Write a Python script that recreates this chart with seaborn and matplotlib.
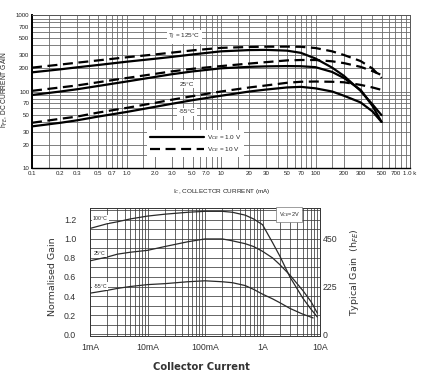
import numpy as np
import pandas as pd
import matplotlib
matplotlib.use("Agg")
import matplotlib.pyplot as plt
import seaborn as sns
from matplotlib.ticker import FixedLocator, NullFormatter
from matplotlib.lines import Line2D

# ---------------- top chart data: hFE vs collector current (mA) ----------------
top_current = [0.1, 0.2, 0.3, 0.5, 1, 2, 3, 5, 10, 20, 30, 50, 70, 100, 150, 200, 300, 400, 500]
gain_125_1v = [178, 195, 207, 222, 245, 268, 283, 305, 335, 348, 350, 342, 320, 270, 205, 160, 102, 68, 49]
gain_125_10v = [205, 225, 238, 255, 280, 305, 322, 345, 372, 382, 385, 386, 384, 370, 335, 300, 250, 200, 150]
gain_25_1v = [90, 100, 107, 118, 135, 155, 168, 183, 201, 210, 213, 215, 214, 208, 180, 150, 105, 65, 40]
gain_25_10v = [102, 113, 120, 132, 150, 170, 183, 198, 215, 232, 242, 255, 258, 258, 248, 235, 210, 185, 164]
gain_m55_1v = [35, 39, 42, 47, 54, 63, 69, 77, 88, 100, 106, 113, 115, 110, 100, 88, 72, 55, 40]
gain_m55_10v = [39, 44, 47, 53, 61, 71, 78, 87, 100, 113, 120, 130, 134, 135, 134, 132, 122, 113, 105]

top_xticks = [0.1, 0.2, 0.3, 0.5, 0.7, 1, 2, 3, 5, 7, 10, 20, 30, 50, 70, 100, 200, 300, 500, 700, 1000]
top_xticklabels = ["0.1", "0.2", "0.3", "0.5", "0.7", "1.0", "2.0", "3.0", "5.0", "7.0",
                   "10", "20", "30", "50", "70", "100", "200", "300", "500", "700", "1.0 k"]
top_yticks = [10, 20, 30, 50, 70, 100, 200, 300, 500, 700, 1000]
top_yticklabels = ["10", "20", "30", "50", "70", "100", "200", "300", "500", "700", "1000"]

# ---------------- bottom chart data: normalised gain vs collector current (A) ----------------
bot_current = [0.001, 0.002, 0.003, 0.005, 0.01, 0.02, 0.05, 0.1, 0.2, 0.3, 0.5, 0.7, 1, 1.5, 2, 3, 5, 7, 9]
norm_100 = [1.11, 1.16, 1.18, 1.21, 1.24, 1.26, 1.28, 1.29, 1.29, 1.28, 1.25, 1.21, 1.15, 0.96, 0.82, 0.60, 0.38, 0.26, 0.18]
norm_25 = [0.77, 0.81, 0.84, 0.86, 0.88, 0.92, 0.97, 1.00, 1.00, 0.98, 0.95, 0.92, 0.87, 0.80, 0.73, 0.62, 0.46, 0.34, 0.22]
bot_current_m55 = [0.001, 0.002, 0.003, 0.005, 0.01, 0.02, 0.05, 0.1, 0.2, 0.3, 0.5, 0.7, 1, 1.5, 2, 3, 5, 7.6]
norm_m55 = [0.43, 0.46, 0.48, 0.50, 0.52, 0.53, 0.55, 0.56, 0.55, 0.54, 0.51, 0.47, 0.42, 0.37, 0.33, 0.27, 0.21, 0.17]

bot_xticks = [0.001, 0.01, 0.1, 1, 10]
bot_xticklabels = ["1mA", "10mA", "100mA", "1A", "10A"]
bot_yticks = [0.0, 0.2, 0.4, 0.6, 0.8, 1.0, 1.2]
bot_right_ticks = [0, 225, 450]
hfe_scale = 450

sns.set_theme(style="white")
plt.rcParams["font.family"] = ["Liberation Sans", "DejaVu Sans"]

fig = plt.figure(figsize=(4.3, 3.87), dpi=100)

# ================= TOP CHART =================
W, H = 430, 387
def axrect(l, t, r, b):
    return [l / W, (H - b) / H, (r - l) / W, (b - t) / H]

ax1 = fig.add_axes(axrect(32, 15, 410, 168))

top_rows = []
for temp, vce, vals in [("125", "1.0 V", gain_125_1v), ("125", "10 V", gain_125_10v),
                        ("25", "1.0 V", gain_25_1v), ("25", "10 V", gain_25_10v),
                        ("-55", "1.0 V", gain_m55_1v), ("-55", "10 V", gain_m55_10v)]:
    for c, g in zip(top_current, vals):
        top_rows.append({"current": c, "gain": g, "temp": temp, "vce": vce})
df_top = pd.DataFrame(top_rows)

sns.lineplot(data=df_top, x="current", y="gain", hue="temp", style="vce",
             palette={"125": "black", "25": "black", "-55": "black"},
             dashes={"1.0 V": "", "10 V": (4.5, 2.5)},
             estimator=None, sort=True, linewidth=1.6, legend=False, ax=ax1, zorder=3)

ax1.set_xscale("log")
ax1.set_yscale("log")
ax1.set_xlim(0.1, 1000)
ax1.set_ylim(10, 1000)

mults = [1.5, 2, 3, 4, 5, 6, 7, 8, 9]
x_grid_minor = [m * 10.0 ** k for k in range(-1, 3) for m in mults if m * 10.0 ** k not in top_xticks]
y_grid_minor = [m * 10.0 ** k for k in range(1, 3) for m in mults if m * 10.0 ** k not in top_yticks]
ax1.xaxis.set_major_locator(FixedLocator(top_xticks))
ax1.xaxis.set_minor_locator(FixedLocator(x_grid_minor))
ax1.yaxis.set_major_locator(FixedLocator(top_yticks))
ax1.yaxis.set_minor_locator(FixedLocator(y_grid_minor))
ax1.set_xticklabels(top_xticklabels)
ax1.set_yticklabels(top_yticklabels)
ax1.xaxis.set_minor_formatter(NullFormatter())
ax1.yaxis.set_minor_formatter(NullFormatter())
ax1.grid(which="both", color="#6a6a6a", linewidth=0.6)
ax1.tick_params(which="both", length=0, labelsize=4.4, colors="#222222", pad=2)
for s in ax1.spines.values():
    s.set_color("#555555")
    s.set_linewidth(0.7)
ax1.spines["left"].set_color("black")
ax1.spines["left"].set_linewidth(1.4)
ax1.spines["bottom"].set_color("black")
ax1.spines["bottom"].set_linewidth(1.0)

ax1.set_xlabel("I$_C$, COLLECTOR CURRENT (mA)", fontsize=4.6, color="#222222")
ax1.set_ylabel("h$_{FE}$, DC CURRENT GAIN", fontsize=4.8, color="#222222")
ax1.xaxis.set_label_coords(0.503, -0.125)
ax1.yaxis.set_label_coords(-0.058, 0.51)

box = dict(facecolor="white", edgecolor="none", pad=1.2)
ax1.text(4.1, 515, "T$_J$ = 125°C", fontsize=4.6, ha="center", va="center", bbox=box, zorder=4)
ax1.text(4.35, 125, "25°C", fontsize=4.6, ha="center", va="center", bbox=box, zorder=4)
ax1.text(4.35, 54, "-55°C", fontsize=4.6, ha="center", va="center", bbox=box, zorder=4)

handles = [Line2D([], [], color="black", lw=1.6),
           Line2D([], [], color="black", lw=1.6, dashes=(4.5, 2.5))]
leg = ax1.legend(handles, ["V$_{CE}$ = 1.0 V", "V$_{CE}$ = 10 V"],
                 loc="upper left", bbox_to_anchor=(0.295, 0.27), fontsize=4.6,
                 handlelength=8.5, handletextpad=0.4, labelspacing=0.5,
                 frameon=True, framealpha=1, facecolor="white", edgecolor="none",
                 borderpad=0.5, fancybox=False)
leg.set_zorder(5)

# ================= BOTTOM CHART =================
ax2 = fig.add_axes(axrect(90, 208, 320, 336))

bot_rows = []
for temp, xs, vals in [("100", bot_current, norm_100), ("25", bot_current, norm_25),
                       ("-55", bot_current_m55, norm_m55)]:
    for c, g in zip(xs, vals):
        bot_rows.append({"current": c, "gain": g, "temp": temp})
df_bot = pd.DataFrame(bot_rows)

sns.lineplot(data=df_bot, x="current", y="gain", hue="temp",
             palette={"100": "#2a2a2a", "25": "#2a2a2a", "-55": "#2a2a2a"},
             estimator=None, sort=True, linewidth=0.9, legend=False, ax=ax2, zorder=3)

ax2.set_xscale("log")
ax2.set_xlim(0.001, 10)
ax2.set_ylim(-0.02, 1.325)
bx_minor = [m * 10.0 ** k for k in range(-3, 1) for m in [2, 3, 4, 5, 6, 7, 8, 9]]
ax2.xaxis.set_major_locator(FixedLocator(bot_xticks))
ax2.xaxis.set_minor_locator(FixedLocator(bx_minor))
ax2.set_xticklabels(bot_xticklabels)
ax2.xaxis.set_minor_formatter(NullFormatter())
ax2.yaxis.set_major_locator(FixedLocator(bot_yticks))
ax2.yaxis.set_minor_locator(FixedLocator([0.1, 0.3, 0.5, 0.7, 0.9, 1.1, 1.3]))
ax2.set_yticklabels([f"{v:.1f}" for v in bot_yticks])
ax2.grid(which="both", color="#3a3a3a", linewidth=0.55)
ax2.tick_params(which="both", length=0, labelsize=6.3, colors="#333333")
ax2.tick_params(axis="y", pad=10)
ax2.tick_params(axis="x", pad=5)
for s in ax2.spines.values():
    s.set_color("#333333")
    s.set_linewidth(0.7)

ax2.set_xlabel("Collector Current", fontsize=7.2, color="#333333", fontweight="bold",
               family=["DejaVu Sans"])
ax2.set_ylabel("Normalised Gain", fontsize=6.8, color="#333333", family=["DejaVu Sans"])
ax2.xaxis.set_label_coords(0.483, -0.2)
ax2.yaxis.set_label_coords(-0.145, 0.46)

ax3 = ax2.twinx()
ax3.set_ylim(-0.02 * hfe_scale, 1.325 * hfe_scale)
ax3.yaxis.set_major_locator(FixedLocator(bot_right_ticks))
ax3.set_yticklabels([str(v) for v in bot_right_ticks])
ax3.tick_params(length=0, labelsize=6.3, colors="#333333", pad=2)
ax3.grid(False)
for s in ax3.spines.values():
    s.set_visible(False)
ax3.set_ylabel("Typical Gain  (h$_{FE}$)", fontsize=6.8, color="#333333", family=["DejaVu Sans"])
ax3.yaxis.set_label_coords(1.12, 0.5)

sbox = dict(facecolor="white", edgecolor="none", pad=0.8)
ax2.text(0.00112, 1.21, "100°C", fontsize=3.8, ha="left", va="center", bbox=sbox, zorder=4)
ax2.text(0.00118, 0.85, "25°C", fontsize=3.8, ha="left", va="center", bbox=sbox, zorder=4)
ax2.text(0.00115, 0.505, "-55°C", fontsize=3.8, ha="left", va="center", bbox=sbox, zorder=4)
ax2.text(1.9, 1.255, "V$_{CE}$=2V", fontsize=4.0, ha="left", va="center",
         bbox=dict(facecolor="white", edgecolor="#777777", linewidth=0.5, pad=2.0), zorder=4)

fig.savefig("out.png", dpi=100)
